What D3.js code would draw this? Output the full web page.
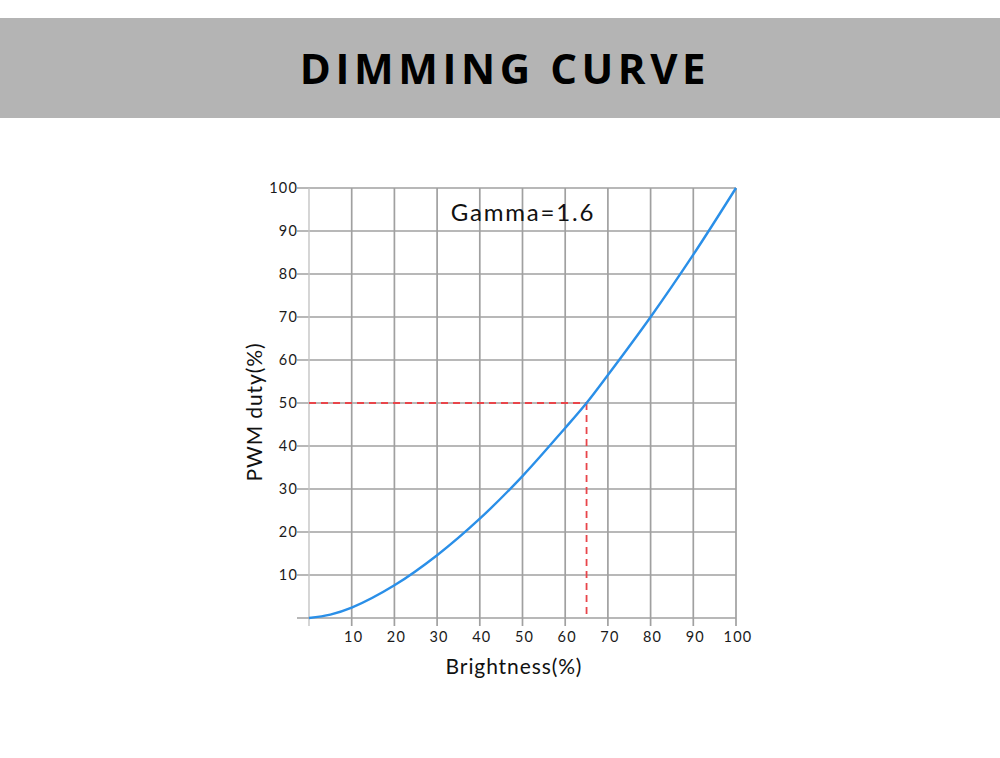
<!DOCTYPE html>
<html><head><meta charset="utf-8">
<script src="https://cdn.jsdelivr.net/npm/d3@7"></script>
<style>body{margin:0;background:#fff}svg{display:block}</style>
</head><body>
<script>
const title = "DIMMING CURVE";
const brightness = [0, 5, 10, 20, 30, 40, 50, 60, 65, 70, 80, 90, 100];
const pwmDuty =    [0, 0.8, 2.4, 7.6, 14.6, 23.1, 33.0, 44.2, 50.0, 56.5, 70.0, 84.5, 100];
const xTicks = [10, 20, 30, 40, 50, 60, 70, 80, 90, 100];
const yTicks = [10, 20, 30, 40, 50, 60, 70, 80, 90, 100];
const marker = {x: 65, y: 50};
const gammaLabel = "Gamma=1.6";
const xLabel = "Brightness(%)";
const yLabel = "PWM duty(%)";

const W = 1000, H = 758;
const svg = d3.select("body").append("svg").attr("width", W).attr("height", H);
svg.append("rect").attr("x",0).attr("y",18).attr("width",W).attr("height",100).attr("fill","#b4b4b4");
svg.append("text").attr("x",505).attr("y",84).attr("text-anchor","middle")
  .attr("font-family","Open Sans").attr("font-weight","bold").attr("font-size",42)
  .attr("letter-spacing",4.6).attr("fill","#000").text(title);

const x = d3.scaleLinear().domain([0,100]).range([309,736]);
const y = d3.scaleLinear().domain([0,100]).range([618,188]);
const font = "Lato, 'Noto Sans', sans-serif";
const g = svg.append("g");
// grid
g.selectAll(".vg").data(xTicks).join("line")
  .attr("x1",d=>x(d)).attr("x2",d=>x(d)).attr("y1",y(100)).attr("y2",y(0)+8)
  .attr("stroke","#a0a0a0").attr("stroke-width",1.7);
g.selectAll(".hg").data(yTicks).join("line")
  .attr("x1",x(0)-12).attr("x2",x(100)).attr("y1",d=>y(d)).attr("y2",d=>y(d))
  .attr("stroke","#a0a0a0").attr("stroke-width",1.7);
// left axis & base
g.append("line").attr("x1",x(0)).attr("x2",x(0)).attr("y1",y(100)).attr("y2",y(0)+8)
  .attr("stroke","#c4c4c4").attr("stroke-width",1.4);
g.append("line").attr("x1",x(0)-12).attr("x2",x(100)).attr("y1",y(0)).attr("y2",y(0))
  .attr("stroke","#a0a0a0").attr("stroke-width",1.7);
// tick labels
g.selectAll(".yl").data(yTicks).join("text")
  .attr("x",x(0)-11).attr("y",d=>y(d)+5).attr("text-anchor","end")
  .attr("font-family",font).attr("font-size",14.5).attr("letter-spacing",1.2).attr("fill","#1a1a1a").text(d=>d);
g.selectAll(".xl").data(xTicks).join("text")
  .attr("x",d=>x(d)+2).attr("y",y(0)+24).attr("text-anchor","middle")
  .attr("font-family",font).attr("font-size",14.5).attr("letter-spacing",1.2).attr("fill","#1a1a1a").text(d=>d);
// axis labels
svg.append("text").attr("x",514).attr("y",674).attr("text-anchor","middle")
  .attr("font-family",font).attr("font-size",21).attr("letter-spacing",0.9).attr("fill","#111").text(xLabel);
svg.append("text").attr("transform","translate(262,412) rotate(-90)").attr("text-anchor","middle")
  .attr("font-family",font).attr("font-size",21).attr("letter-spacing",0.9).attr("fill","#111").text(yLabel);
// gamma label
svg.append("text").attr("x",523).attr("y",221).attr("text-anchor","middle")
  .attr("font-family",font).attr("font-size",24).attr("letter-spacing",1.8).attr("fill","#111").text(gammaLabel);
// dashed marker
g.append("line").attr("x1",x(0)).attr("x2",x(marker.x)).attr("y1",y(marker.y)).attr("y2",y(marker.y))
  .attr("stroke","#e8454a").attr("stroke-width",1.8).attr("stroke-dasharray","7,5");
g.append("line").attr("x1",x(marker.x)).attr("x2",x(marker.x)).attr("y1",y(marker.y)).attr("y2",y(0))
  .attr("stroke","#e8454a").attr("stroke-width",1.8).attr("stroke-dasharray","7,5");
// curve
const pts = brightness.map((b,i)=>[b,pwmDuty[i]]);
g.append("path").datum(pts)
  .attr("d", d3.line().x(d=>x(d[0])).y(d=>y(d[1])).curve(d3.curveCatmullRom.alpha(0.5)))
  .attr("fill","none").attr("stroke","#2a8fe8").attr("stroke-width",2.4);
</script>
</body></html>
